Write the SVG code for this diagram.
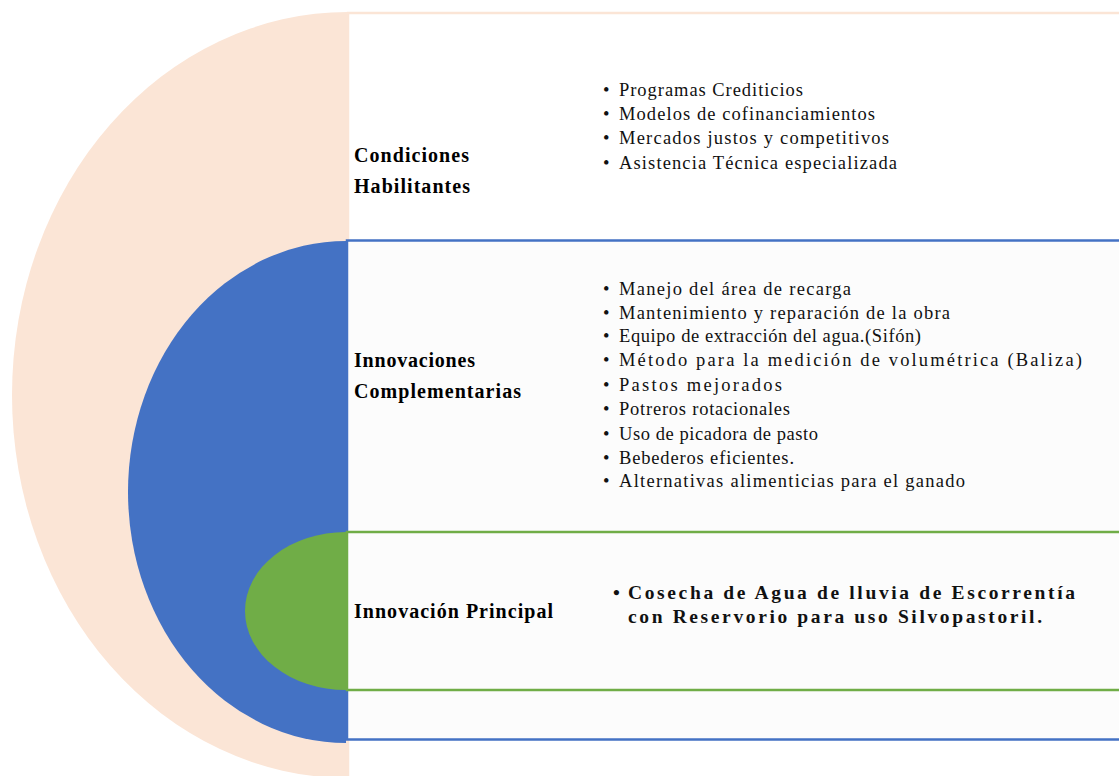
<svg xmlns="http://www.w3.org/2000/svg" width="1119" height="776" viewBox="0 0 1119 776">
<style>
.lbl{font-family:"Liberation Serif","Times New Roman",serif;font-weight:bold;font-size:20px;fill:#000}
.itm{font-family:"Liberation Serif","Times New Roman",serif;font-size:18.5px;fill:#111}
.main{font-family:"Liberation Serif","Times New Roman",serif;font-weight:bold;font-size:19.5px;fill:#111}
.panel{fill:#FCFCFC;stroke-width:2.5}
</style>
<rect width="1119" height="776" fill="#FFFFFF"/>
<g id="condiciones-habilitantes">
<path d="M348,12 A336,383 0 0 0 348,778 Z" fill="#FBE5D6"/>
<rect x="348" y="13" width="800" height="800" fill="#FFFFFF" stroke="#FBE5D6" stroke-width="2.5"/>
<text class="lbl" x="354" y="162" textLength="115" lengthAdjust="spacing">Condiciones</text>
<text class="lbl" x="354" y="193" textLength="116" lengthAdjust="spacing">Habilitantes</text>
<g class="itm">
<text x="603" y="96">•</text><text x="619" y="96" textLength="184" lengthAdjust="spacing">Programas  Crediticios</text>
<text x="603" y="120">•</text><text x="619" y="120" textLength="256" lengthAdjust="spacing">Modelos de  cofinanciamientos</text>
<text x="603" y="144">•</text><text x="619" y="144" textLength="270" lengthAdjust="spacing">Mercados  justos y  competitivos</text>
<text x="603" y="169">•</text><text x="619" y="169" textLength="278" lengthAdjust="spacing">Asistencia  Técnica  especializada</text>
</g>
</g>
<g id="innovaciones-complementarias">
<path d="M346,241 A218,251 0 0 0 346,743 Z" fill="#4472C4"/>
<rect class="panel" x="347" y="240.5" width="800" height="499" stroke="#4472C4"/>
<text class="lbl" x="354" y="367" textLength="121" lengthAdjust="spacing">Innovaciones</text>
<text class="lbl" x="354" y="398" textLength="167" lengthAdjust="spacing">Complementarias</text>
<g class="itm">
<text x="603" y="295">•</text><text x="619" y="295" textLength="232" lengthAdjust="spacing">Manejo del  área de recarga</text>
<text x="603" y="319">•</text><text x="619" y="319" textLength="331" lengthAdjust="spacing">Mantenimiento y  reparación de la  obra</text>
<text x="603" y="342">•</text><text x="619" y="342" textLength="302" lengthAdjust="spacing">Equipo de extracción del agua.(Sifón)</text>
<text x="603" y="366">•</text><text x="619" y="366" textLength="463" lengthAdjust="spacing">Método para la medición de volumétrica (Baliza)</text>
<text x="603" y="391">•</text><text x="619" y="391" textLength="163" lengthAdjust="spacing">Pastos mejorados</text>
<text x="603" y="415">•</text><text x="619" y="415" textLength="171" lengthAdjust="spacing">Potreros  rotacionales</text>
<text x="603" y="440">•</text><text x="619" y="440" textLength="199" lengthAdjust="spacing">Uso de picadora de pasto</text>
<text x="603" y="464">•</text><text x="619" y="464" textLength="175" lengthAdjust="spacing">Bebederos  eficientes.</text>
<text x="603" y="487">•</text><text x="619" y="487" textLength="346" lengthAdjust="spacing">Alternativas alimenticias  para el  ganado</text>
</g>
</g>
<g id="innovacion-principal">
<path d="M346,532 A101,79 0 0 0 346,690 Z" fill="#70AD47"/>
<rect class="panel" x="347" y="532" width="800" height="158" stroke="#70AD47"/>
<text class="lbl" x="354" y="618" textLength="199" lengthAdjust="spacing">Innovación  Principal</text>
<text class="main" x="613" y="599">•</text>
<text class="main" x="628" y="599" textLength="447" lengthAdjust="spacing">Cosecha de Agua de lluvia de Escorrentía</text>
<text class="main" x="628" y="623" textLength="414" lengthAdjust="spacing">con Reservorio para uso Silvopastoril.</text>
</g>
<g id="connectors"></g>
</svg>
